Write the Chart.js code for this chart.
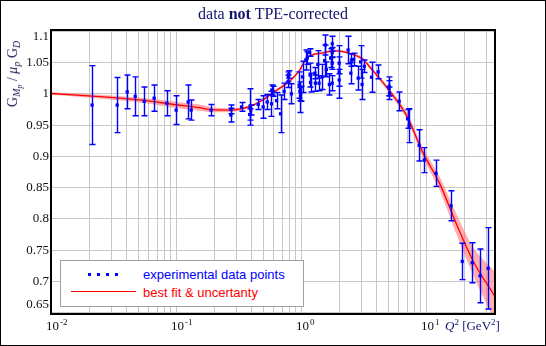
<!DOCTYPE html>
<html>
<head>
<meta charset="utf-8">
<script src="https://cdn.jsdelivr.net/npm/chart.js@4.4.1/dist/chart.umd.min.js"></script>
<style>
  html, body { margin: 0; padding: 0; background: #fff; }
  #wrap { position: relative; width: 546px; height: 346px; overflow: hidden; }
  #wrap canvas { position: absolute; left: 0; top: 0; }
  #frame { position: absolute; left: 0; top: 0; width: 544px; height: 344px; border: 1px solid #000; pointer-events: none; }
  .title { position: absolute; left: 51px; width: 444px; top: 5px; text-align: center; font: 16px "Liberation Serif", serif; color: #14146e; line-height: 18px; }
  .ylab { position: absolute; left: 13px; top: 74px; transform: translate(-50%, -50%) rotate(-90deg); font: 14px "Liberation Serif", serif; color: #1a1a55; white-space: nowrap; line-height: 14px; }
  .ylab sub { font-size: 10px; vertical-align: -3px; line-height: 0; }
  .ylab sub sub { font-size: 8px; vertical-align: -2px; }
  .xlab { position: absolute; left: 445px; top: 319px; font: 13px "Liberation Serif", serif; color: #14146e; white-space: nowrap; line-height: 13px; }
  .xlab sup { font-size: 9px; vertical-align: 5px; line-height: 0; }
  .legend { position: absolute; left: 60px; top: 260px; width: 242px; height: 45px; border: 1px solid #a0a0a0; background: #fff; }
  .legend .dots { position: absolute; left: 27px; top: 12px; width: 31px; height: 3px; background: repeating-linear-gradient(to right, #0000ff 0 3.4px, transparent 3.4px 9px); }
  .legend .rline { position: absolute; left: 10px; top: 30px; width: 65px; height: 1px; background: #ff0000; }
  .legend .lt { position: absolute; left: 82px; font: 13px "Liberation Sans", Arial, sans-serif; white-space: nowrap; line-height: 15px; }
</style>
</head>
<body>
<div id="wrap">
  <canvas id="chart" width="546" height="346"></canvas>
  <div class="title">data <b>not</b> TPE-corrected</div>
  <div class="ylab">G<sub><i>M</i><sub><i>p</i></sub></sub> / <i>μ</i><sub><i>p</i></sub> G<sub><i>D</i></sub></div>
  <div class="xlab"><i>Q</i><sup>2</sup> [GeV<sup>2</sup>]</div>
  <div class="legend">
    <div class="dots"></div>
    <div class="lt" style="top:6px;color:#0000ff">experimental data points</div>
    <div class="rline"></div>
    <div class="lt" style="top:24px;color:#ff0000">best fit &amp; uncertanty</div>
  </div>
  <div id="frame"></div>
</div>
<script>
// measured points: Q^2 [GeV^2], ratio, error
const dataQ2 = [0.0211, 0.0335, 0.0403, 0.0467, 0.0551, 0.0662, 0.0836, 0.0993, 0.1239, 0.1309,
    0.189, 0.272, 0.272, 0.331, 0.385, 0.388, 0.392, 0.450, 0.493, 0.531,
    0.575, 0.578, 0.590, 0.631, 0.679, 0.726, 0.782, 0.782, 0.790, 0.830,
    0.957, 0.970, 0.980, 0.985, 1.019, 1.080, 1.110, 1.160, 1.170, 1.180,
    1.280, 1.290, 1.350, 1.380, 1.460, 1.530, 1.550, 1.580, 1.670, 1.710,
    1.760, 1.760, 1.760, 1.760, 2.000, 2.000, 2.000, 2.360, 2.480, 2.510,
    2.610, 2.840, 2.970, 3.050, 3.180, 3.630, 4.100, 5.020, 5.020, 5.050,
    6.040, 7.050, 7.260, 8.730, 9.570, 11.90, 15.70, 19.30, 23.20, 26.80, 31.10];
const dataRatio = [0.982, 0.982, 1.003, 0.996, 0.988, 0.993, 0.985, 0.974, 0.987, 0.974,
    0.974, 0.975, 0.966, 0.979, 0.967, 0.979, 0.974, 0.983, 0.979, 0.987,
    0.984, 1.006, 1.004, 0.989, 0.968, 1.004, 1.020, 1.027, 1.031, 1.000,
    1.014, 1.004, 0.990, 1.000, 1.027, 1.054, 1.057, 1.066, 1.030, 1.018,
    1.033, 1.017, 1.047, 1.017, 1.027, 1.053, 1.078, 1.039, 1.015, 1.057,
    1.080, 1.066, 1.049, 1.017, 1.049, 1.035, 1.022, 1.070, 1.033, 1.054,
    1.055, 1.025, 1.051, 1.015, 1.044, 1.0265, 1.035, 1.012, 1.009, 1.001,
    0.988, 0.960, 0.949, 0.9175, 0.894, 0.873, 0.821, 0.732, 0.730, 0.709, 0.721];
const dataErr = [0.063, 0.044, 0.027, 0.031, 0.023, 0.021, 0.020, 0.023, 0.027, 0.016,
    0.009, 0.007, 0.011, 0.007, 0.009, 0.029, 0.008, 0.008, 0.018, 0.012,
    0.020, 0.008, 0.008, 0.013, 0.030, 0.013, 0.010, 0.008, 0.006, 0.016,
    0.021, 0.015, 0.020, 0.012, 0.025, 0.016, 0.010, 0.006, 0.019, 0.015,
    0.009, 0.013, 0.022, 0.012, 0.020, 0.025, 0.016, 0.012, 0.017, 0.015,
    0.012, 0.008, 0.010, 0.012, 0.010, 0.042, 0.010, 0.022, 0.017, 0.010,
    0.010, 0.019, 0.026, 0.024, 0.010, 0.024, 0.011, 0.015, 0.012, 0.010,
    0.015, 0.015, 0.027, 0.025, 0.020, 0.021, 0.024, 0.029, 0.032, 0.043, 0.065];

// best fit curve and its uncertainty
const fitQ2 = [0.0099, 0.0211, 0.0551, 0.099, 0.153, 0.19, 0.272, 0.375, 0.479, 0.61,
    0.81, 0.96, 1.10, 1.49, 1.90, 2.44, 3.11, 3.55, 5.10, 6.98, 9.36, 12.8, 17.1, 23.4, 35.3];
const fitRatio = [1.0005, 0.9963, 0.9894, 0.9825, 0.9778, 0.9746, 0.974, 0.979, 0.989, 1.0037,
    1.021, 1.037, 1.0567, 1.0656, 1.0687, 1.0646, 1.055, 1.042, 1.0037, 0.964, 0.906, 0.8556, 0.7948, 0.734, 0.6758];
const fitErr = [0.002, 0.003, 0.004, 0.005, 0.005, 0.004, 0.003, 0.002, 0.002, 0.002,
    0.002, 0.002, 0.002, 0.002, 0.002, 0.002, 0.003, 0.003, 0.004, 0.006, 0.008, 0.011, 0.016, 0.022, 0.04];

const xDecades = [0.01, 0.1, 1, 10];
const xExponents = ["-2", "-1", "0", "1"];
const yTicks = [1.1, 1.05, 1, 0.95, 0.9, 0.85, 0.8, 0.75, 0.7, 0.65];

const serif = '"Liberation Serif", "Times New Roman", serif';

const points = dataQ2.map((q, i) => ({ x: q, y: dataRatio[i] }));
const fitLine = fitQ2.map((q, i) => ({ x: q, y: fitRatio[i] }));
const fitUpper = fitQ2.map((q, i) => ({ x: q, y: fitRatio[i] + fitErr[i] }));
const fitLower = fitQ2.map((q, i) => ({ x: q, y: fitRatio[i] - fitErr[i] }));

const errorBars = {
    id: "errorBars",
    afterDatasetsDraw(chart) {
        const { ctx, chartArea: a, scales: { x, y } } = chart;
        ctx.save();
        ctx.beginPath();
        ctx.rect(a.left, a.top, a.right - a.left, a.bottom - a.top);
        ctx.clip();
        ctx.strokeStyle = "#0000ff";
        ctx.lineWidth = 1.4;
        dataQ2.forEach((q, i) => {
            const px = Math.round(x.getPixelForValue(q)) + 0.5;
            const top = y.getPixelForValue(dataRatio[i] + dataErr[i]);
            const bot = y.getPixelForValue(dataRatio[i] - dataErr[i]);
            ctx.beginPath();
            ctx.moveTo(px, top); ctx.lineTo(px, bot);
            ctx.moveTo(px - 3, top); ctx.lineTo(px + 3, top);
            ctx.moveTo(px - 3, bot); ctx.lineTo(px + 3, bot);
            ctx.stroke();
        });
        ctx.restore();
    }
};

const axisText = {
    id: "axisText",
    afterDraw(chart) {
        const { ctx, chartArea: a, scales: { x, y } } = chart;
        ctx.save();
        ctx.strokeStyle = "#000";
        ctx.lineWidth = 2;
        ctx.strokeRect(a.left, a.top, a.right - a.left, a.bottom - a.top);

        ctx.fillStyle = "#111";
        ctx.font = "13px " + serif;
        ctx.textAlign = "right";
        ctx.textBaseline = "middle";
        yTicks.forEach(v => {
            let py = y.getPixelForValue(v);
            py = Math.min(Math.max(py, a.top + 7), a.bottom - 9);
            ctx.fillText(String(v), a.left - 2, py);
        });

        ctx.textBaseline = "alphabetic";
        xDecades.forEach((v, i) => {
            const px = x.getPixelForValue(v);
            ctx.font = "13px " + serif;
            ctx.textAlign = "center";
            ctx.fillText("10", px + 1, 330);
            const w = ctx.measureText("10").width;
            ctx.font = "9px " + serif;
            ctx.textAlign = "left";
            ctx.fillText(xExponents[i], px + 1 + w / 2 + 1, 325);
        });
        ctx.restore();
    }
};

const logGrid = (scale) => {
    const ticks = [];
    xDecades.forEach(d => {
        for (let m = 1; m <= 9; m++) {
            const v = m * d;
            if (v >= scale.min && v <= scale.max) ticks.push({ value: v });
        }
    });
    scale.ticks = ticks;
};

new Chart(document.getElementById("chart"), {
    type: "scatter",
    data: {
        datasets: [
            {
                label: "experimental data points",
                data: points,
                pointStyle: "rect",
                pointRadius: 2.3,
                pointBorderWidth: 0,
                pointBackgroundColor: "#0000ff",
                showLine: false,
            },
            {
                label: "best fit",
                data: fitLine,
                showLine: true,
                borderColor: "#ff0000",
                borderWidth: 1.3,
                pointRadius: 0,
                tension: 0.4,
                cubicInterpolationMode: "monotone",
                fill: false,
            },
            {
                label: "upper",
                data: fitUpper,
                showLine: true,
                borderWidth: 0,
                borderColor: "rgba(0,0,0,0)",
                pointRadius: 0,
                cubicInterpolationMode: "monotone",
                backgroundColor: "rgba(255,110,110,0.55)",
                fill: "+1",
            },
            {
                label: "lower",
                data: fitLower,
                showLine: true,
                borderWidth: 0,
                borderColor: "rgba(0,0,0,0)",
                pointRadius: 0,
                cubicInterpolationMode: "monotone",
                fill: false,
            },
        ],
    },
    options: {
        responsive: false,
        animation: false,
        layout: { padding: { left: 51, top: 30, right: 51, bottom: 32 } },
        scales: {
            x: {
                type: "logarithmic",
                min: 0.0099,
                max: 35.3,
                afterBuildTicks: logGrid,
                afterFit: (s) => { s.height = 0; },
                ticks: { display: false },
                grid: { color: "#c8c8c8", lineWidth: 1, drawTicks: false },
                border: { display: false },
            },
            y: {
                type: "linear",
                min: 0.648,
                max: 1.102,
                afterBuildTicks: (s) => { s.ticks = yTicks.map(v => ({ value: v })); },
                afterFit: (s) => { s.width = 0; },
                ticks: { display: false },
                grid: { color: "#c8c8c8", lineWidth: 1, drawTicks: false },
                border: { display: false },
            },
        },
        plugins: {
            legend: { display: false },
            title: { display: false },
            tooltip: { enabled: false },
        },
    },
    plugins: [errorBars, axisText],
});
</script>
</body>
</html>
